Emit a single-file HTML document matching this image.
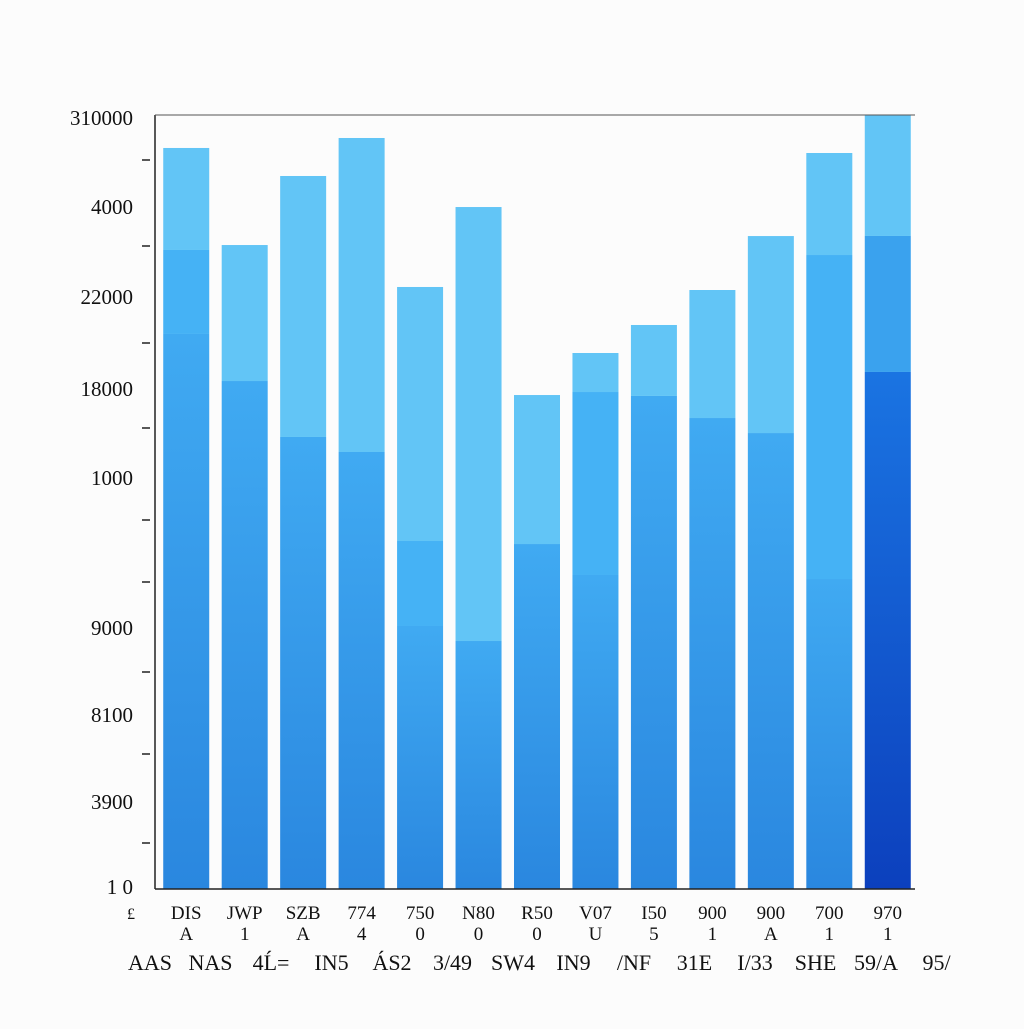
<!DOCTYPE html>
<html><head><meta charset="utf-8"><style>
html,body{margin:0;padding:0;background:#fcfcfc;}
svg text{font-family:"Liberation Serif",serif;fill:#111;}
</style></head><body>
<svg id="chart" width="1024" height="1024" viewBox="0 0 1024 1024" xmlns="http://www.w3.org/2000/svg">
<defs>
<linearGradient id="gBot" x1="0" y1="0" x2="0" y2="1"><stop offset="0" stop-color="#40aaf2"/><stop offset="1" stop-color="#2a87df"/></linearGradient>
<linearGradient id="gDark" x1="0" y1="0" x2="0" y2="1"><stop offset="0" stop-color="#1a74e2"/><stop offset="1" stop-color="#0c40bd"/></linearGradient>
</defs>
<g id="bars"></g>
<g id="axes"></g>
</svg>
<script>
const categories=["DIS","JWP","SZB","774","750","N80","R50","V07","I50","900","900","700","970"];
const subLabels=["A","1","A","4","0","0","0","U","5","1","A","1","1"];
const bottomLabels=["AAS","NAS","4Ĺ=","IN5","ÁS2","3/49","SW4","IN9","/NF","31E","I/33","SHE","59/A","95/"];
const bottomVals=[7171,6563,5840,5646,3398,3204,4457,4057,6370,6085,5891,4005,6680];
const midVals=[1085,0,0,0,1098,0,0,2364,0,0,0,4186,1757];
const topVals=[1318,1757,3372,4057,3282,5607,1925,504,917,1654,2545,1318,1563];
const yTickLabels=["310000","4000","22000","18000","1000","9000","8100","3900","1 0"];
const yTickLabelY=[118,207,297,389,478,628,715,802,887];
const yTickMarks=[160,246,343,428,520,582,672,754,843];
const NS="http://www.w3.org/2000/svg";
const L=155,R=915,T=115,B=889,YMAX=10000;
const y=v=>B-v/YMAX*(B-T);
const slot=(R-L)/categories.length;
const bw=46;
const xc=i=>L+slot*(i+0.5)+2;
function mk(tag,attrs,parent){const e=document.createElementNS(NS,tag);for(const k in attrs)e.setAttribute(k,attrs[k]);parent.appendChild(e);return e;}
const gb=document.getElementById('bars'),ga=document.getElementById('axes');
categories.forEach((c,i)=>{
  const x=xc(i)-bw/2;
  const b0=bottomVals[i],b1=b0+midVals[i],b2=b1+topVals[i];
  const last=i===categories.length-1;
  let r=mk('rect',{x:x,y:y(b0),width:bw,height:B-y(b0),fill:last?'url(#gDark)':'url(#gBot)'},gb);
  
  
  if(midVals[i]>0){
    r=mk('rect',{x:x,y:y(b1),width:bw,height:y(b0)-y(b1),fill:last?'#3aa2ee':'#45b2f5'},gb);
    
    
  }
  r=mk('rect',{x:x,y:y(b2),width:bw,height:y(b1)-y(b2),fill:'#62c5f6'},gb);
  
  
  let t=mk('text',{x:xc(i),y:919,'text-anchor':'middle','font-size':19},ga);t.textContent=c;
  
  
  t=mk('text',{x:xc(i),y:940,'text-anchor':'middle','font-size':19},ga);t.textContent=subLabels[i];
  
  
});
bottomLabels.forEach((s,i)=>{
  const t=mk('text',{x:150+i*60.5,y:970,'text-anchor':'middle','font-size':22},ga);t.textContent=s;
  
  
});
let t=mk('text',{x:131,y:919,'text-anchor':'middle','font-size':16},ga);t.textContent="£";


yTickLabels.forEach((s,i)=>{
  const e=mk('text',{x:133,y:yTickLabelY[i]+7,'text-anchor':'end','font-size':21},ga);e.textContent=s;
  
  
});
yTickMarks.forEach((v,i)=>{
  const e=mk('line',{x1:142,x2:150,y1:v,y2:v,stroke:'#222','stroke-width':1.5},ga);
  
  
});
let a=mk('line',{x1:L,x2:L,y1:T,y2:B,stroke:'#222','stroke-width':1.5},ga);


a=mk('line',{x1:L,x2:R,y1:B,y2:B,stroke:'#222','stroke-width':1.5},ga);


a=mk('line',{x1:L,x2:R,y1:T,y2:T,stroke:'#555','stroke-width':1},ga);


</script>
</body></html>
